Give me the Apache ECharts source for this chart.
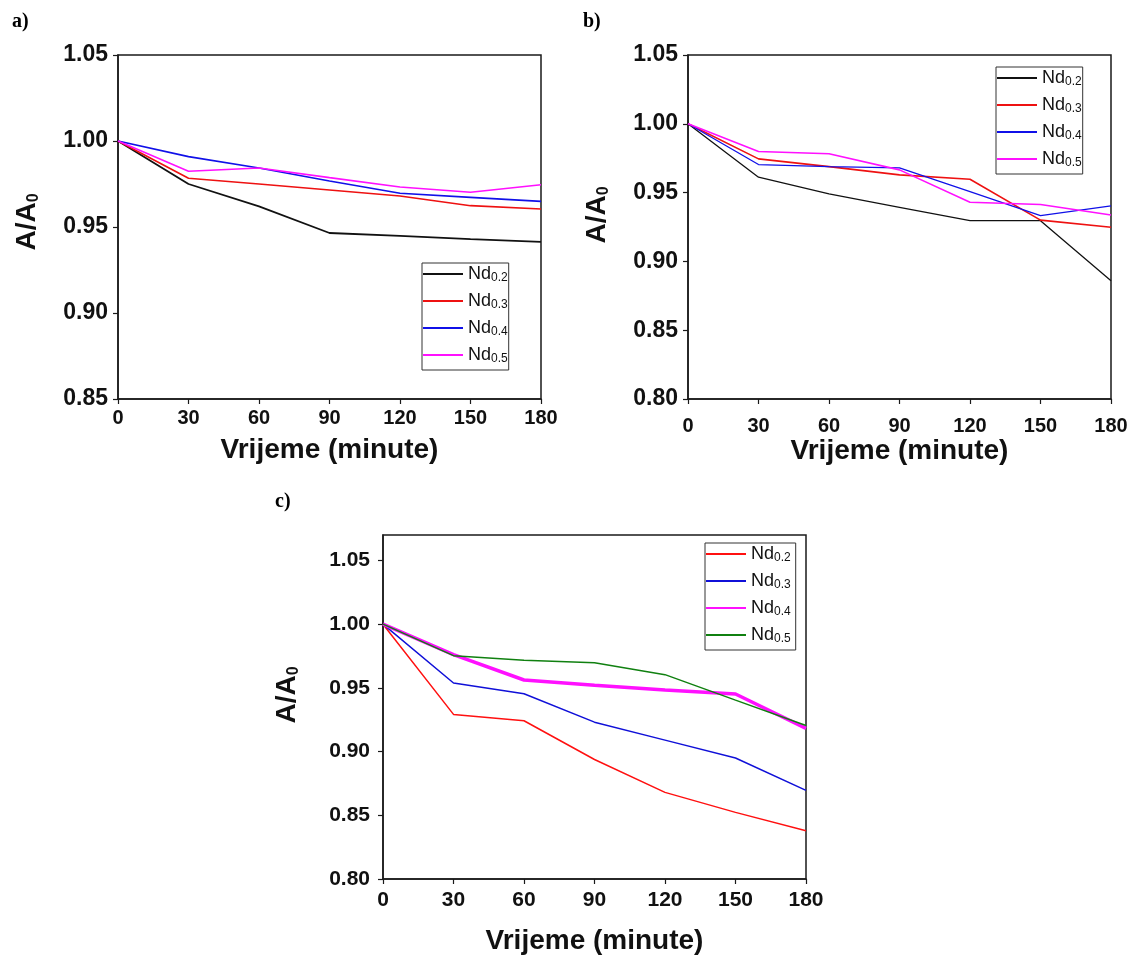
<!DOCTYPE html>
<html>
<head>
<meta charset="utf-8">
<script src="https://cdn.jsdelivr.net/npm/echarts@6/dist/echarts.min.js"></script>
<style>
html,body{margin:0;padding:0;background:#fff;}
#chart{width:1134px;height:958px;}
</style>
</head>
<body>
<div id="chart"></div>
<script>
// ---- data ----
const times = [0, 30, 60, 90, 120, 150, 180];
const ndSubs = ['0.2', '0.3', '0.4', '0.5'];
const xTicks = [0, 30, 60, 90, 120, 150, 180];
const yTicksA = [0.85, 0.90, 0.95, 1.00, 1.05];
const yTicksB = [0.80, 0.85, 0.90, 0.95, 1.00, 1.05];
const yTicksC = [0.80, 0.85, 0.90, 0.95, 1.00, 1.05];

// panel a
const aNd02 = [1.000, 0.975, 0.962, 0.9465, 0.9448, 0.943, 0.9413];
const aNd03 = [1.000, 0.9783, 0.975, 0.9715, 0.968, 0.9624, 0.9605];
const aNd04 = [1.000, 0.9909, 0.9843, 0.9767, 0.9696, 0.9672, 0.9649];
const aNd05 = [1.000, 0.9824, 0.9843, 0.9787, 0.9733, 0.9702, 0.9746];
// panel b
const bNd02 = [1.000, 0.9612, 0.949, 0.9393, 0.9296, 0.9296, 0.8859];
const bNd03 = [1.000, 0.9745, 0.9689, 0.9629, 0.9597, 0.930, 0.9248];
const bNd04 = [1.000, 0.9704, 0.9689, 0.968, 0.9507, 0.9333, 0.9403];
const bNd05 = [1.000, 0.9799, 0.9782, 0.9665, 0.943, 0.9413, 0.9337];
// panel c
const cNd02 = [1.000, 0.9292, 0.9242, 0.8938, 0.868, 0.8523, 0.8379];
const cNd03 = [1.000, 0.9538, 0.9454, 0.9231, 0.909, 0.895, 0.8696];
const cNd04 = [1.000, 0.9761, 0.9562, 0.952, 0.9483, 0.9452, 0.9182];
const cNd05 = [1.000, 0.9753, 0.9717, 0.9698, 0.9604, 0.9404, 0.9205];

// ---- styling / layout ----
const FONT = '"Liberation Sans", Arial, sans-serif';
const AXC = '#1a1a1a';
const panels = [
  {key:'a', grid:{left:118, top:55, width:423, height:344}, yMin:0.85, yMax:1.05, yTicks:yTicksA,
   series:[aNd02,aNd03,aNd04,aNd05], colors:['#111111','#ee1111','#1010e8','#ff10ff'], widths:[1.8,1.6,1.6,1.6],
   legend:{left:422, top:263, padding:[2,1,5,1]}, yLabelSize:23, xLabelSize:20, yMargin:10, xMargin:9, yNameGap:76, xNameGap:37, yNamePad:10},
  {key:'b', grid:{left:688, top:55, width:423, height:344}, yMin:0.80, yMax:1.05, yTicks:yTicksB,
   series:[bNd02,bNd03,bNd04,bNd05], colors:['#111111','#ee1111','#1010e8','#ff10ff'], widths:[1.3,1.6,1.3,1.6],
   legend:{left:996, top:67, padding:[2,1,5,1]}, yLabelSize:23, xLabelSize:20, yMargin:10, xMargin:17, yNameGap:76, xNameGap:37, yNamePad:24},
  {key:'c', grid:{left:383, top:535, width:423, height:344}, yMin:0.80, yMax:1.07, yTicks:yTicksC,
   series:[cNd02,cNd03,cNd04,cNd05], colors:['#ff1010','#1010d8','#ff10ff','#108010'], widths:[1.5,1.5,3.5,1.5],
   legend:{left:705, top:543, padding:[2,5,5,1]}, yLabelSize:21, xLabelSize:21, yMargin:13, xMargin:11, yNameGap:81, xNameGap:48, yNamePad:24}
];

const option = {
  animation:false,
  backgroundColor:'#ffffff',
  grid:[], xAxis:[], yAxis:[], series:[], legend:[],
  graphic:[
    {type:'text', left:12, top:12, style:{text:'a)', font:'bold 20px "Liberation Serif", "Times New Roman", serif', fill:'#000'}},
    {type:'text', left:583, top:12, style:{text:'b)', font:'bold 20px "Liberation Serif", "Times New Roman", serif', fill:'#000'}},
    {type:'text', left:275, top:492, style:{text:'c)', font:'bold 20px "Liberation Serif", "Times New Roman", serif', fill:'#000'}}
  ]
};

panels.forEach((p, i) => {
  option.grid.push(Object.assign({show:true, borderColor:AXC, borderWidth:1.5, backgroundColor:'transparent', outerBoundsMode:'none', containLabel:false}, p.grid));
  option.xAxis.push({
    type:'value', gridIndex:i, min:0, max:180, interval:30,
    axisLine:{show:true, onZero:false, lineStyle:{color:AXC, width:1.5}},
    axisTick:{show:true, inside:false, length:5, lineStyle:{color:AXC, width:1.2}},
    axisLabel:{show:true, margin:p.xMargin, color:'#111', fontSize:p.xLabelSize, fontWeight:'bold', fontFamily:FONT,
               customValues:xTicks, formatter:v => String(Math.round(v))},
    splitLine:{show:false},
    name:'Vrijeme (minute)', nameLocation:'middle', nameGap:p.xNameGap,
    nameTextStyle:{color:'#111', fontSize:28, fontWeight:'bold', fontFamily:FONT}
  });
  option.yAxis.push({
    type:'value', gridIndex:i, min:p.yMin, max:p.yMax, interval:0.05,
    axisLine:{show:true, onZero:false, lineStyle:{color:AXC, width:1.5}},
    axisTick:{show:true, inside:false, length:5, lineStyle:{color:AXC, width:1.2}, customValues:p.yTicks},
    axisLabel:{show:true, margin:p.yMargin, color:'#111', fontSize:p.yLabelSize, fontWeight:'bold', fontFamily:FONT,
               customValues:p.yTicks, formatter:v => v.toFixed(2)},
    splitLine:{show:false},
    name:'{a|A/A}{s|0}', nameLocation:'middle', nameGap:p.yNameGap,
    nameTextStyle:{color:'#111', fontFamily:FONT, padding:[0,0,0,p.yNamePad],
      rich:{a:{fontSize:28, fontWeight:'bold', fontFamily:FONT, color:'#111', lineHeight:30, verticalAlign:'middle'},
            s:{fontSize:16, fontWeight:'bold', fontFamily:FONT, color:'#111', lineHeight:12, verticalAlign:'bottom'}}}
  });
  const names = [];
  p.series.forEach((vals, k) => {
    const nm = 'Nd' + ndSubs[k] + ' ' + p.key;
    names.push(nm);
    option.series.push({
      type:'line', name:nm, xAxisIndex:i, yAxisIndex:i, symbol:'none', smooth:false,
      data: times.map((t, j) => [t, vals[j]]),
      lineStyle:{color:p.colors[k], width:p.widths[k]},
      itemStyle:{color:p.colors[k]}, z: 2 + k
    });
  });
  option.legend.push({
    data:names, orient:'vertical', left:p.legend.left, top:p.legend.top,
    padding:p.legend.padding, itemGap:8, itemWidth:40, itemHeight:2, icon:'rect',
    borderColor:'#333', borderWidth:1, backgroundColor:'#fff', selectedMode:false,
    formatter: name => { const m = name.match(/^Nd([0-9.]+)/); return '{a|Nd}{s|' + m[1] + '}'; },
    textStyle:{color:'#111', fontFamily:FONT, padding:[0,0,0,0],
      rich:{a:{fontSize:18, fontFamily:FONT, color:'#111', lineHeight:20, verticalAlign:'middle'},
            s:{fontSize:12, fontFamily:FONT, color:'#111', lineHeight:6, verticalAlign:'bottom'}}}
  });
});

const chart = echarts.init(document.getElementById('chart'), null, {renderer:'canvas'});
chart.setOption(option);
</script>
</body>
</html>
